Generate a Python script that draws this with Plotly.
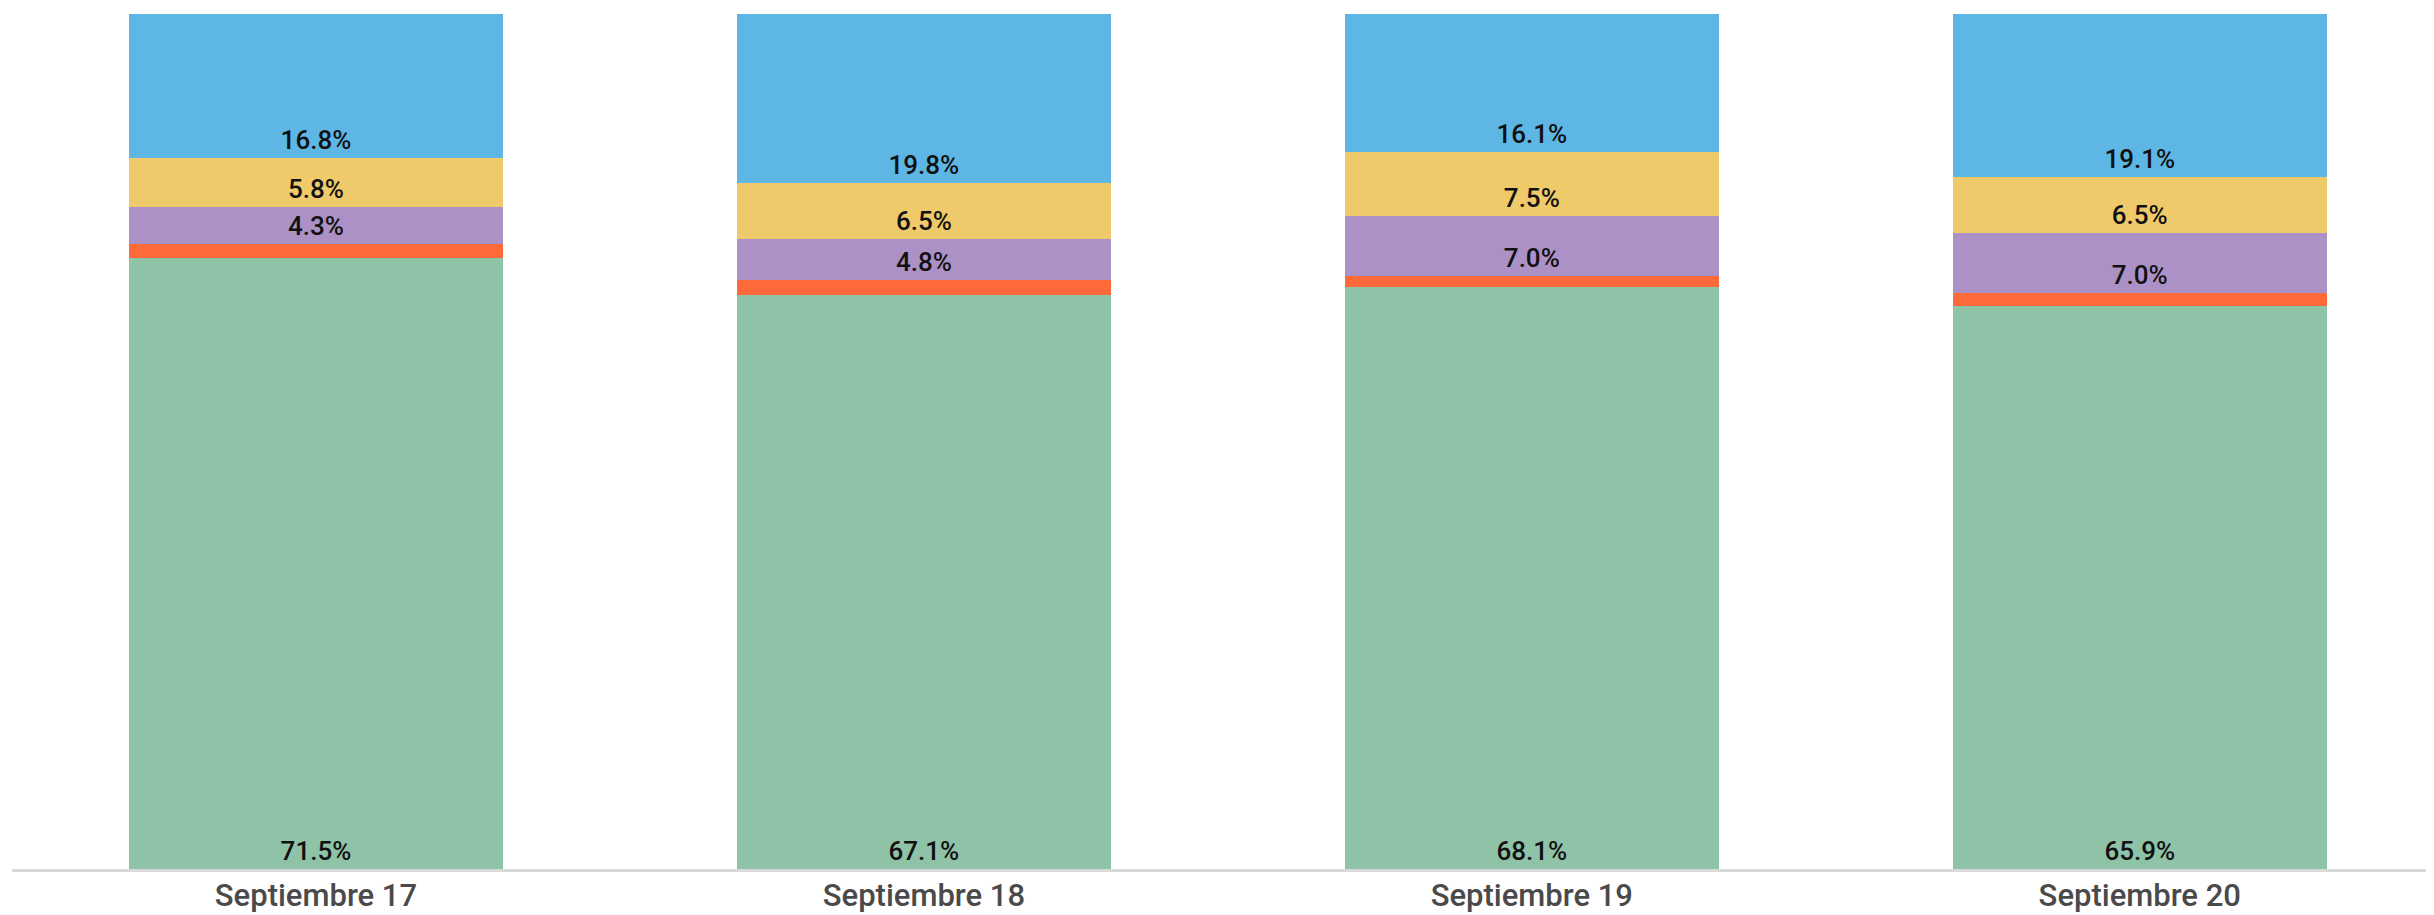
import plotly.graph_objects as go

categories = ["Septiembre 17", "Septiembre 18", "Septiembre 19", "Septiembre 20"]
green = [71.5, 67.1, 68.1, 65.9]
orange = [1.6, 1.8, 1.3, 1.5]
purple = [4.3, 4.8, 7.0, 7.0]
yellow = [5.8, 6.5, 7.5, 6.5]
blue = [16.8, 19.8, 16.1, 19.1]

series = [
    ("green", green, "#8EC3A8", True),
    ("orange", orange, "#FE6A39", False),
    ("purple", purple, "#AC91C6", True),
    ("yellow", yellow, "#EFCA6A", True),
    ("blue", blue, "#5EB6E4", True),
]

fig = go.Figure()
for name, vals, color, show in series:
    fig.add_trace(go.Bar(
        x=categories, y=vals, name=name,
        marker=dict(color=color, line=dict(width=0)),
        texttemplate="%{y:.1f}%" if show else None,
        textposition="inside" if show else "none",
        insidetextanchor="start",
        textangle=0,
        textfont=dict(family="Roboto", size=26, color="#111111", weight=500),
        hoverinfo="skip",
    ))

# page body has an 8px margin; figure is sized to fit the window inside it
fig.update_layout(
    barmode="stack",
    width=2426, height=907,
    margin=dict(l=4, r=0, t=6, b=46),
    paper_bgcolor="white", plot_bgcolor="white",
    showlegend=False,
    bargap=0.385,
    xaxis=dict(showline=True, linecolor="#d9d9d9", linewidth=3, ticks="",
               showgrid=False, zeroline=False, range=[-0.5, 3.484],
               automargin=False, ticklabelstandoff=-3,
               tickfont=dict(family="Roboto", size=31, color="#4a4a4a", weight=500)),
    yaxis=dict(visible=False, range=[0, 100], showgrid=False, zeroline=False,
               automargin=False),
)

fig.write_html("out.html")
